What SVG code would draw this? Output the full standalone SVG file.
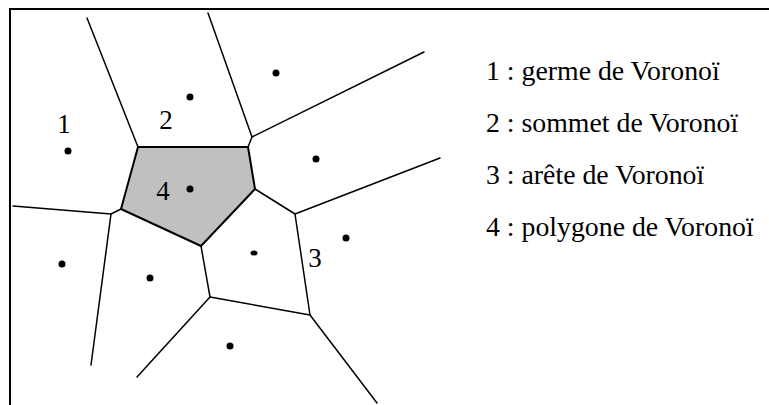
<svg xmlns="http://www.w3.org/2000/svg" width="769" height="405" viewBox="0 0 769 405">
<style>
.edge{fill:none;stroke:#000;stroke-width:1.5;stroke-linecap:round;stroke-linejoin:round}
.cell{fill:#c0c0c0;stroke:#000;stroke-width:2;stroke-linejoin:round}
.seed{fill:#000}
text{font-family:'Liberation Serif','DejaVu Serif',serif;fill:#000}
.lbl{font-size:27px}
.leg{font-size:27.8px}
</style>
<rect width="769" height="405" fill="#fff"/>
<path d="M10,405 V9 H769" fill="none" stroke="#000" stroke-width="2"/>
<g id="polygon4">
<polygon class="cell" points="138,147 248,147 255,189 201,246 121,209"/>
</g>
<g id="connectors">
<path class="edge" d="M87,18 L138,147"/>
<path class="edge" d="M208,13 L252,137 L248,147"/>
<path class="edge" d="M252,137 L424,52"/>
<path class="edge" d="M255,189 L295,214 L440,158"/>
<path class="edge" d="M295,214 L310,315 L377,403"/>
<path class="edge" d="M201,246 L210,297 L310,315"/>
<path class="edge" d="M210,297 L137,377"/>
<path class="edge" d="M121,209 L111,214 L13,206"/>
<path class="edge" d="M111,214 L91,365"/>
</g>
<g id="seeds">
<circle class="seed" cx="68" cy="151" r="3.5"/>
<circle class="seed" cx="190" cy="97" r="3.5"/>
<circle class="seed" cx="190" cy="189" r="3.5"/>
<circle class="seed" cx="276" cy="73" r="3.5"/>
<circle class="seed" cx="316" cy="159" r="3.5"/>
<circle class="seed" cx="346" cy="238" r="3.5"/>
<ellipse class="seed" cx="254" cy="253" rx="3.5" ry="2.5"/>
<circle class="seed" cx="150" cy="278" r="3.5"/>
<circle class="seed" cx="62" cy="264" r="3.5"/>
<circle class="seed" cx="230" cy="346" r="3.5"/>
</g>
<g id="labels">
<text class="lbl" x="64" y="133" text-anchor="middle">1</text>
<text class="lbl" x="166" y="129" text-anchor="middle">2</text>
<text class="lbl" x="163" y="200" text-anchor="middle">4</text>
<text class="lbl" x="315" y="267" text-anchor="middle">3</text>
</g>
<g id="legend">
<text class="leg" x="486" y="80">1 : germe de Voronoï</text>
<text class="leg" x="486" y="132">2 : sommet de Voronoï</text>
<text class="leg" x="486" y="184">3 : arête de Voronoï</text>
<text class="leg" x="486" y="236">4 : polygone de Voronoï</text>
</g>
</svg>
